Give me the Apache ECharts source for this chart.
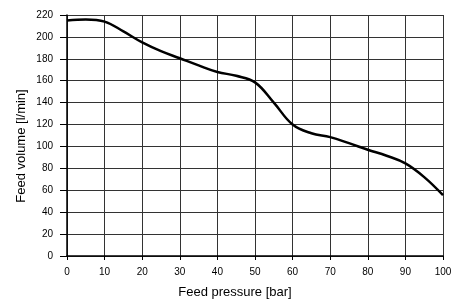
<!DOCTYPE html>
<html><head><meta charset="utf-8">
<script src="https://cdn.jsdelivr.net/npm/echarts@6/dist/echarts.min.js"></script>
<style>html,body{margin:0;padding:0;background:#fff}#c{width:458px;height:304px}</style>
</head><body><div id="c"></div>
<script>
const pressure = [0,5,10,15,20,25,30,35,40,45,50,55,60,65,70,75,80,85,90,95,100];
const volume = [215,216,214,205,195,187,180.5,174,168,164.5,158.5,140,120,112,108.5,103,97,91.5,84.5,72,55.5];
const xTicks = {min:0,max:100,interval:10};
const yTicks = {min:0,max:220,interval:20};
const xName = 'Feed pressure [bar]';
const yName = 'Feed volume [l/min]';
const font = 'Liberation Sans, Arial, sans-serif';
const chart = echarts.init(document.getElementById('c'));
chart.setOption({
  animation:false,
  grid:{left:67,right:15,top:15,bottom:48,containLabel:false,outerBoundsMode:'none'},
  graphic:[{type:'text',x:21,y:146,rotation:Math.PI/2,
    style:{text:yName,fontFamily:font,fontSize:13,fill:'#000',align:'center',verticalAlign:'middle'}},
    {type:'text',x:235,y:292,
    style:{text:xName,fontFamily:font,fontSize:13,fill:'#000',align:'center',verticalAlign:'middle'}}],
  xAxis:{type:'value',min:xTicks.min,max:xTicks.max,interval:xTicks.interval,
    axisLine:{lineStyle:{color:'#000',width:1.5}},
    axisTick:{length:4,lineStyle:{color:'#000'}},
    axisLabel:{fontFamily:font,fontSize:10,color:'#000',margin:11},
    splitLine:{lineStyle:{color:'#333',width:1}}},
  yAxis:{type:'value',min:yTicks.min,max:yTicks.max,interval:yTicks.interval,
    axisLine:{show:true,lineStyle:{color:'#000',width:1.5}},
    axisTick:{show:true,length:7,lineStyle:{color:'#000'}},
    axisLabel:{fontFamily:font,fontSize:10,color:'#000',margin:14},
    splitLine:{lineStyle:{color:'#333',width:1}}},
  series:[{type:'line',data:pressure.map((p,i)=>[p,volume[i]]),smooth:0.4,
    showSymbol:false,lineStyle:{color:'#000',width:2.5}}]
});
</script></body></html>
